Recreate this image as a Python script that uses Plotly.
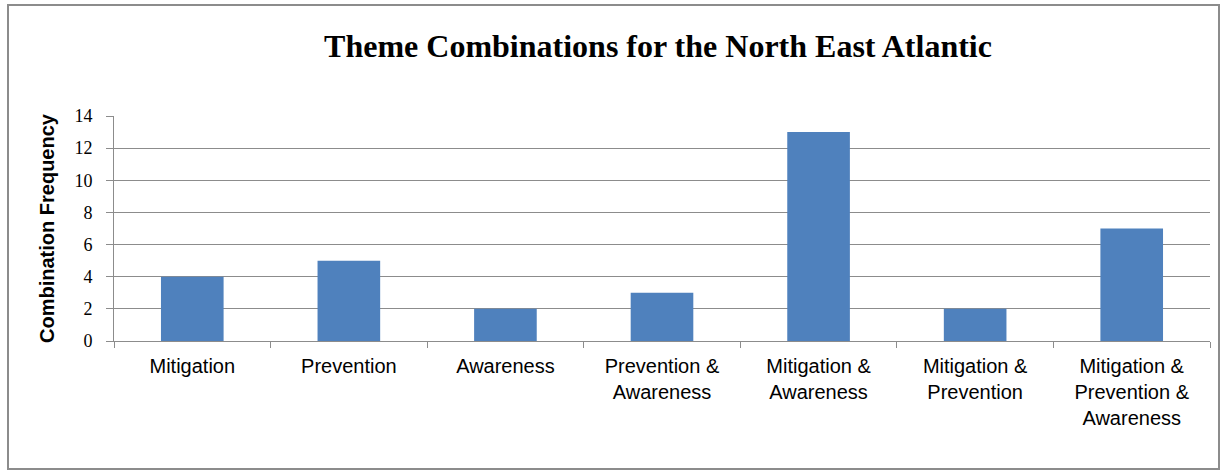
import plotly.graph_objects as go

categories = ["Mitigation", "Prevention", "Awareness", "Prevention &<br>Awareness",
              "Mitigation &<br>Awareness", "Mitigation &<br>Prevention",
              "Mitigation &<br>Prevention &<br>Awareness"]
values = [4, 5, 2, 3, 13, 2, 7]
y_ticks = [0, 2, 4, 6, 8, 10, 12, 14]

W, H = 1228, 472
L, R, T, B = 114, 18, 116, 131
pw, ph = W - L - R, H - T - B

fig = go.Figure(go.Bar(x=categories, y=values, marker=dict(color="#4F81BD", line=dict(width=0)),
                       width=0.4))

def px_to_paper_x(px):
    return (px - L) / pw

def px_to_paper_y(py):
    return (H - B - py) / ph

fig.add_shape(type="rect", xref="paper", yref="paper",
              x0=px_to_paper_x(8), x1=px_to_paper_x(1219),
              y0=px_to_paper_y(469), y1=px_to_paper_y(5),
              line=dict(color="#8c8c8c", width=2), fillcolor="rgba(0,0,0,0)", layer="below")

fig.update_layout(
    width=W, height=H,
    margin=dict(l=L, r=R, t=T, b=B),
    paper_bgcolor="white", plot_bgcolor="white",
    showlegend=False,
    title=dict(text="<b>Theme Combinations for the North East Atlantic</b>",
               x=658 / W, xanchor="center",
               y=1 - 46 / H, yanchor="middle",
               font=dict(family="Liberation Serif, Times New Roman, serif", size=32, color="black")),
    bargap=0.6,
)
fig.update_xaxes(type="category", showline=True, linecolor="#8c8c8c", linewidth=1,
                 ticks="outside", tickson="boundaries", ticklen=6, tickcolor="#8c8c8c",
                 ticklabelstandoff=7,
                 tickfont=dict(family="Liberation Sans, Arial, sans-serif", size=20, color="black"),
                 showgrid=False)
fig.update_yaxes(range=[0, 14], tickvals=y_ticks, showline=True, linecolor="#8c8c8c", linewidth=1,
                 ticks="outside", ticklen=7, tickcolor="#8c8c8c", ticklabelstandoff=10,
                 showgrid=True, gridcolor="#8c8c8c", gridwidth=1, zeroline=False,
                 tickfont=dict(family="Liberation Serif, Times New Roman, serif", size=18, color="black"),
                 title=dict(text="<b>Combination Frequency</b>", standoff=14,
                            font=dict(family="Liberation Sans, Arial, sans-serif", size=20, color="black")))

fig.write_html("out.html")
